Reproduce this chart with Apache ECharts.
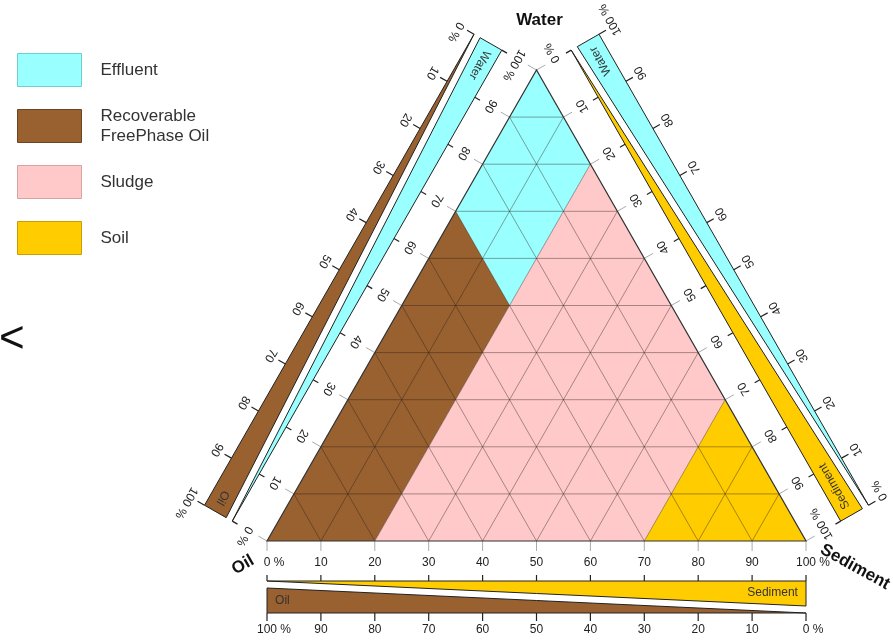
<!DOCTYPE html>
<html>
<head>
<meta charset="utf-8">
<title>Ternary classification</title>
<script src="https://cdn.jsdelivr.net/npm/echarts@6/dist/echarts.min.js"></script>
<style>
html, body { margin: 0; padding: 0; background: #fff; }
#chart { width: 893px; height: 643px; }
</style>
</head>
<body>
<div id="chart"></div>
<script>
// compositions are [oil, water, sediment] in %
const classNames = ['Effluent', 'Recoverable\nFreePhase Oil', 'Sludge', 'Soil'];
const effluent = [[0, 100, 0], [30, 70, 0], [30, 50, 20], [0, 80, 20]];
const freePhaseOil = [[30, 70, 0], [100, 0, 0], [80, 0, 20], [30, 50, 20]];
const sludge = [[30, 50, 20], [80, 0, 20], [30, 0, 70], [0, 30, 70], [0, 80, 20]];
const soil = [[30, 0, 70], [0, 0, 100], [0, 30, 70]];
const cornerNames = ['Oil', 'Water', 'Sediment'];
const corners = [[100, 0, 0], [0, 100, 0], [0, 0, 100]];
const gridSteps = [10, 20, 30, 40, 50, 60, 70, 80, 90];
const tickValues = [0, 10, 20, 30, 40, 50, 60, 70, 80, 90, 100];

// styles
const classColors = ['#99ffff', '#98612f', '#ffc9c9', '#ffcc00'];
const classBorders = ['#6fcfcf', '#6e4420', '#d6a4a4', '#c89e00'];
const compColors = ['#98612f', '#99ffff', '#ffcc00']; // oil, water, sediment
const FONT = '"Liberation Sans", Arial, sans-serif';

// layout (pixels)
const PX = 5.39, PY = 4.71, ORIGIN_X = 267, ORIGIN_Y = 541;
const D_IN = 40, D_OUT = 72, WEDGE = 25;

// side scales: a -> b along the edge, inner/outer = component index
const sides = [
    { a: 0, b: 1, inner: 1, outer: 0, flip: true },  // left
    { a: 1, b: 2, inner: 2, outer: 1, flip: true },  // right
    { a: 0, b: 2, inner: 2, outer: 0, flip: false }  // bottom
];

function toXY(p) {
    return [p[2] + p[1] / 2, p[1]];
}

function seg(p1, p2, stroke, lw) {
    return { type: 'line', shape: { x1: p1[0], y1: p1[1], x2: p2[0], y2: p2[1] },
        style: { stroke: stroke, lineWidth: lw } };
}

function label(pos, text, rot, align, font, fill) {
    return {
        type: 'text', x: pos[0], y: pos[1], rotation: rot,
        style: {
            text: text, x: 0, y: 0, fill: fill || '#222', font: font || ('12px ' + FONT),
            textAlign: align, align: align, textVerticalAlign: 'middle', verticalAlign: 'middle'
        }
    };
}

function regionSeries(i, verts) {
    return {
        type: 'custom',
        name: classNames[i],
        coordinateSystem: 'cartesian2d',
        silent: true,
        itemStyle: { color: classColors[i], borderColor: classBorders[i], borderWidth: 1 },
        data: [[50, 30]],
        renderItem: (params, api) => ({
            type: 'polygon',
            shape: { points: verts.map(v => api.coord(toXY(v))) },
            style: { fill: classColors[i] }
        })
    };
}

function renderGrid(params, api) {
    const children = [];
    gridSteps.forEach(v => {
        const pairs = [
            [[100 - v, v, 0], [0, v, 100 - v]],
            [[100 - v, 0, v], [0, 100 - v, v]],
            [[v, 0, 100 - v], [v, 100 - v, 0]]
        ];
        pairs.forEach(pr => {
            children.push(seg(api.coord(toXY(pr[0])), api.coord(toXY(pr[1])), 'rgba(40,25,25,0.5)', 0.8));
        });
    });
    return { type: 'group', children: children };
}

function tickLabel(pos, v, rd, rot) {
    if (v === 0 || v === 100) {
        const half = String(v).length * 0.556 * 12 / 2;
        return label([pos[0] - rd[0] * half, pos[1] - rd[1] * half], v + ' %', rot, 'left');
    }
    return label(pos, String(v), rot, 'center');
}

function renderFrame(params, api) {
    const pt = p => api.coord(toXY(p));
    const cp = corners.map(pt);
    const centre = pt([100 / 3, 100 / 3, 100 / 3]);
    const children = [];

    sides.forEach(side => {
        const A = cp[side.a], B = cp[side.b];
        const len = Math.hypot(B[0] - A[0], B[1] - A[1]);
        const dir = [(B[0] - A[0]) / len, (B[1] - A[1]) / len];
        let n = [dir[1], -dir[0]];
        const mid = [(A[0] + B[0]) / 2, (A[1] + B[1]) / 2];
        if ((mid[0] - centre[0]) * n[0] + (mid[1] - centre[1]) * n[1] < 0) n = [-n[0], -n[1]];
        const P = (t, d) => [A[0] + (B[0] - A[0]) * t + n[0] * d, A[1] + (B[1] - A[1]) * t + n[1] * d];
        const rd = side.flip ? [-dir[0], -dir[1]] : dir;
        const rot = Math.atan2(-rd[1], rd[0]);

        // wedge bars
        children.push({ type: 'polygon', shape: { points: [P(0, D_IN), P(1, D_IN), P(1, D_IN + WEDGE)] },
            style: { fill: compColors[side.inner], stroke: '#222', lineWidth: 1 } });
        children.push({ type: 'polygon', shape: { points: [P(0, D_OUT), P(1, D_OUT), P(0, D_OUT - WEDGE)] },
            style: { fill: compColors[side.outer], stroke: '#222', lineWidth: 1 } });

        tickValues.forEach(v => {
            const t = v / 100;
            children.push(seg(P(t, 0), P(t, 10), '#aaa', 1));
            children.push(seg(P(t, D_IN), P(t, D_IN - 6), '#222', 1.2));
            children.push(seg(P(t, D_OUT), P(t, D_OUT + 8), '#222', 1.2));
            children.push(tickLabel(P(t, 22), v, rd, rot));
            children.push(tickLabel(P(t, 89), 100 - v, rd, rot));
        });

        children.push(label(P(0.985, D_IN + 12), cornerNames[side.inner], rot,
            side.flip ? 'left' : 'right', '12px ' + FONT, '#333'));
        children.push(label(P(0.015, D_OUT - 12), cornerNames[side.outer], rot,
            side.flip ? 'right' : 'left', '12px ' + FONT, '#333'));
    });

    children.push({ type: 'polygon', shape: { points: cp },
        style: { fill: 'none', stroke: '#333', lineWidth: 1.2 } });

    const bold = 'bold 17px ' + FONT;
    children.push(label([cp[0][0] - 24, cp[0][1] + 24], cornerNames[0], 30 * Math.PI / 180, 'center', bold, '#111'));
    children.push(label([cp[1][0] + 3, cp[1][1] - 50], cornerNames[1], 0, 'center', bold, '#111'));
    children.push(label([cp[2][0] + 49, cp[2][1] + 26], cornerNames[2], -29 * Math.PI / 180, 'center', bold, '#111'));

    return { type: 'group', children: children };
}

function legendItem(i) {
    const twoLine = classNames[i].indexOf('\n') >= 0;
    return {
        name: classNames[i],
        itemStyle: { color: classColors[i], borderColor: classBorders[i], borderWidth: 1 },
        textStyle: { padding: twoLine ? [0, 0, 0, 14] : [6, 0, 0, 14] }
    };
}

const legendBase = {
    orient: 'vertical',
    left: 12,
    icon: 'rect',
    itemWidth: 64,
    itemHeight: 33,
    itemGap: 19,
    selectedMode: false,
    textStyle: { fontFamily: FONT, fontSize: 17, lineHeight: 20, color: '#333' }
};

const chart = echarts.init(document.getElementById('chart'));

chart.setOption({
    animation: false,
    backgroundColor: '#fff',
    grid: { left: 0, right: 0, top: 0, bottom: 0 },
    xAxis: { type: 'value', min: -ORIGIN_X / PX, max: (893 - ORIGIN_X) / PX, show: false },
    yAxis: { type: 'value', min: -(643 - ORIGIN_Y) / PY, max: ORIGIN_Y / PY, show: false },
    legend: [
        Object.assign({}, legendBase, { top: 48, data: [0, 1, 2].map(legendItem) }),
        Object.assign({}, legendBase, { top: 216, data: [3].map(legendItem) })
    ],
    graphic: [{
        type: 'text', left: -1, top: 318,
        style: { text: '<', font: '44px ' + FONT, fill: '#111' }
    }],
    series: [
        regionSeries(0, effluent),
        regionSeries(1, freePhaseOil),
        regionSeries(2, sludge),
        regionSeries(3, soil),
        { type: 'custom', coordinateSystem: 'cartesian2d', silent: true, data: [[50, 30]], renderItem: renderGrid },
        { type: 'custom', coordinateSystem: 'cartesian2d', silent: true, data: [[50, 30]], renderItem: renderFrame }
    ]
});
</script>
</body>
</html>
